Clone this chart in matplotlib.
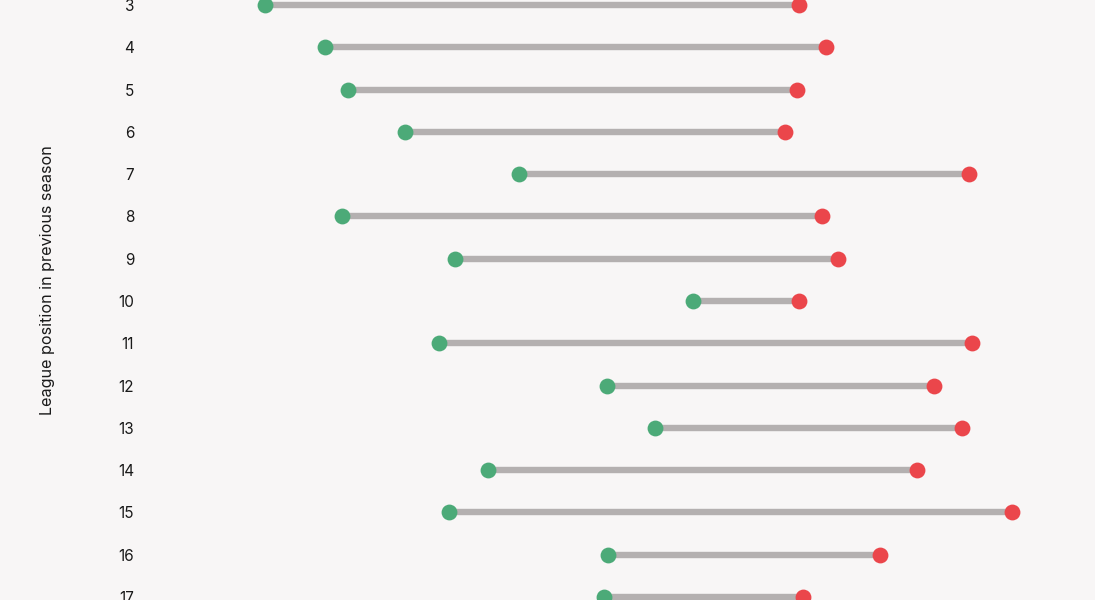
import matplotlib.pyplot as plt

# league position in previous season (only rows 3-17 are in view)
positions = [3, 4, 5, 6, 7, 8, 9, 10, 11, 12, 13, 14, 15, 16, 17]
# start (green) and end (red) values
start_vals = [16.5, 22.5, 24.8, 30.5, 41.9, 24.2, 35.5, 59.3, 33.9, 50.7, 55.5, 38.8, 34.9, 50.8, 50.4]
end_vals = [69.9, 72.6, 69.7, 68.5, 86.9, 72.2, 73.8, 69.9, 87.2, 83.4, 86.2, 81.7, 91.2, 78.0, 70.3]

bg = '#f8f6f6'
green = '#4caa78'
red = '#eb464b'
grey = '#b4b0b0'

plt.rcParams['font.family'] = ['Inter', 'DejaVu Sans']

fig = plt.figure(figsize=(10.95, 6.0), dpi=100, facecolor=bg)
ax = fig.add_axes([150 / 1095, 0, 945 / 1095, 1])
ax.set_facecolor(bg)

ax.hlines(positions, start_vals, end_vals, color=grey, linewidth=4.6, zorder=1)
ax.scatter(start_vals, positions, s=130, color=green, zorder=2, linewidths=0)
ax.scatter(end_vals, positions, s=130, color=red, zorder=2, linewidths=0)

ax.set_xlim(5, 99.5)
ax.set_ylim(17.071, 2.882)

ax.set_yticks(positions)
ax.set_yticklabels([str(p) for p in positions], fontsize=11, color='#1a1a1a')
ax.tick_params(axis='y', length=0, pad=11.5)
ax.set_xticks([])
for s in ax.spines.values():
    s.set_visible(False)

fig.text(48 / 1095, 1 - 280 / 600, 'League position in previous season',
         rotation=90, ha='center', va='center', fontsize=11.6, color='#1a1a1a')

fig.savefig('out.png', dpi=100, facecolor=bg)
